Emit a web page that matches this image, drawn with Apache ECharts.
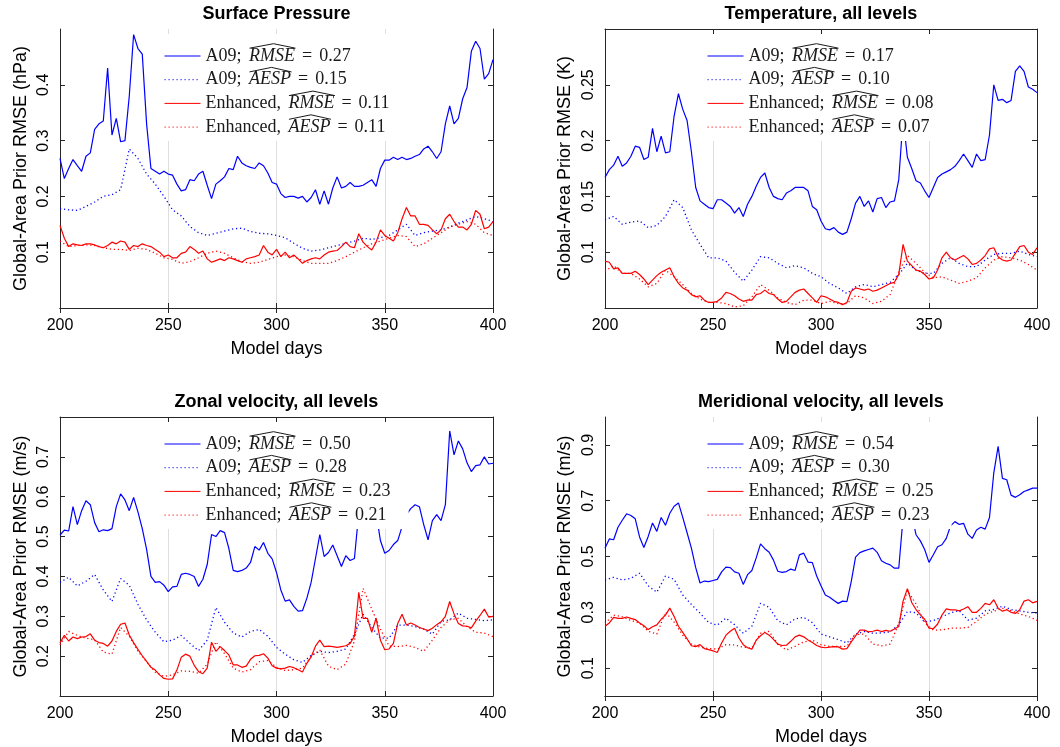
<!DOCTYPE html>
<html>
<head>
<meta charset="utf-8">
<title>Global-Area Prior RMSE</title>
<script src="https://cdn.jsdelivr.net/npm/echarts@6/dist/echarts.min.js"></script>
<style>
  html, body { margin: 0; padding: 0; background: #fff; }
  #chart { width: 1060px; height: 747px; }
</style>
</head>
<body>
<div id="chart"></div>
<script>
// model days: solid curves read every 2 days, dotted (smooth) curves every 4 days
const days2 = [];
for (let d = 200; d <= 400; d += 2) days2.push(d);
const days4 = [];
for (let d = 200; d <= 400; d += 4) days4.push(d);

const xTicks = [200, 250, 300, 350, 400];

// ---- Surface pressure (hPa)
const spTicks = [0.1, 0.2, 0.3, 0.4];
const spScores = ['0.27', '0.15', '0.11', '0.11'];
const spA09Rmse = [
  0.268, 0.232, 0.250, 0.266, 0.255, 0.245, 0.272, 0.278, 0.320, 0.330,
  0.335, 0.430, 0.310, 0.340, 0.298, 0.300, 0.380, 0.490, 0.465, 0.455,
  0.330, 0.250, 0.245, 0.240, 0.245, 0.240, 0.238, 0.222, 0.210, 0.212,
  0.230, 0.228, 0.240, 0.245, 0.220, 0.196, 0.222, 0.228, 0.235, 0.250,
  0.248, 0.272, 0.260, 0.255, 0.252, 0.250, 0.260, 0.255, 0.242, 0.225,
  0.222, 0.205, 0.198, 0.200, 0.200, 0.197, 0.200, 0.190, 0.198, 0.212,
  0.186, 0.210, 0.186, 0.215, 0.235, 0.215, 0.218, 0.225, 0.218, 0.218,
  0.220, 0.225, 0.230, 0.218, 0.250, 0.265, 0.265, 0.270, 0.266, 0.270,
  0.266, 0.268, 0.272, 0.275, 0.285, 0.290, 0.280, 0.268, 0.280, 0.330,
  0.362, 0.330, 0.340, 0.375, 0.395, 0.460, 0.478, 0.465, 0.410, 0.420,
  0.445
];
const spA09Aesp = [
  0.178, 0.176, 0.175, 0.182, 0.190,
  0.200, 0.203, 0.212, 0.285, 0.268,
  0.240, 0.222, 0.200, 0.176, 0.165,
  0.146, 0.135, 0.130, 0.134, 0.138,
  0.142, 0.143, 0.137, 0.134, 0.133,
  0.130, 0.126, 0.116, 0.107, 0.102,
  0.104, 0.108, 0.112, 0.116, 0.120,
  0.125, 0.123, 0.126, 0.130, 0.140,
  0.150, 0.130, 0.135, 0.138, 0.140,
  0.145, 0.152, 0.158, 0.164, 0.160,
  0.155
];
const spEnhRmse = [
  0.148, 0.125, 0.110, 0.115, 0.113, 0.112, 0.115, 0.115, 0.113, 0.110,
  0.108, 0.112, 0.118, 0.115, 0.120, 0.118, 0.105, 0.112, 0.110, 0.115,
  0.112, 0.110, 0.105, 0.100, 0.092, 0.095, 0.090, 0.090, 0.098, 0.100,
  0.110, 0.105, 0.098, 0.102, 0.088, 0.082, 0.085, 0.088, 0.085, 0.090,
  0.088, 0.085, 0.082, 0.088, 0.090, 0.092, 0.095, 0.112, 0.100, 0.095,
  0.105, 0.092, 0.100, 0.090, 0.095, 0.088, 0.080, 0.085, 0.088, 0.090,
  0.088, 0.095, 0.100, 0.102, 0.103, 0.110, 0.118, 0.110, 0.108, 0.133,
  0.118, 0.110, 0.104, 0.118, 0.140, 0.130, 0.125, 0.120, 0.135, 0.160,
  0.180, 0.165, 0.165, 0.150, 0.150, 0.148, 0.140, 0.133, 0.140, 0.160,
  0.168, 0.155, 0.145, 0.145, 0.140, 0.150, 0.175, 0.168, 0.142, 0.145,
  0.155
];
const spEnhAesp = [
  0.120, 0.110, 0.112, 0.113, 0.112,
  0.108, 0.105, 0.105, 0.103, 0.107,
  0.105, 0.098, 0.090, 0.087, 0.080,
  0.083, 0.090, 0.098, 0.102, 0.098,
  0.090, 0.083, 0.080, 0.082, 0.087,
  0.092, 0.095, 0.092, 0.085, 0.080,
  0.080, 0.080, 0.085, 0.092, 0.100,
  0.108, 0.115, 0.120, 0.125, 0.130,
  0.128, 0.110, 0.115, 0.125, 0.135,
  0.145, 0.150, 0.155, 0.150, 0.135,
  0.130
];

// ---- Temperature (K)
const tTicks = [0.1, 0.15, 0.2, 0.25];
const tScores = ['0.17', '0.10', '0.08', '0.07'];
const tA09Rmse = [
  0.167, 0.174, 0.178, 0.186, 0.177, 0.180, 0.186, 0.195, 0.194, 0.183,
  0.185, 0.211, 0.190, 0.204, 0.189, 0.190, 0.222, 0.242, 0.228, 0.218,
  0.190, 0.158, 0.146, 0.143, 0.140, 0.139, 0.147, 0.147, 0.144, 0.141,
  0.135, 0.140, 0.132, 0.143, 0.150, 0.159, 0.167, 0.171, 0.158, 0.150,
  0.148, 0.147, 0.153, 0.155, 0.158, 0.158, 0.158, 0.155, 0.141, 0.138,
  0.128, 0.121, 0.120, 0.122, 0.118, 0.116, 0.118, 0.130, 0.144, 0.150,
  0.141, 0.146, 0.136, 0.148, 0.149, 0.140, 0.145, 0.146, 0.165, 0.220,
  0.185, 0.175, 0.164, 0.162, 0.155, 0.149, 0.158, 0.167, 0.170, 0.172,
  0.174, 0.177, 0.182, 0.188, 0.182, 0.176, 0.188, 0.182, 0.183, 0.205,
  0.250, 0.236, 0.237, 0.234, 0.236, 0.262, 0.267, 0.262, 0.248, 0.246,
  0.243
];
const tA09Aesp = [
  0.129, 0.132, 0.125, 0.127, 0.128,
  0.122, 0.124, 0.132, 0.147, 0.140,
  0.120, 0.107, 0.095, 0.095, 0.092,
  0.082, 0.074, 0.084, 0.096, 0.095,
  0.090, 0.086, 0.088, 0.086, 0.081,
  0.078, 0.072, 0.068, 0.063, 0.069,
  0.071, 0.069, 0.071, 0.073, 0.080,
  0.090, 0.084, 0.081, 0.081, 0.090,
  0.095, 0.090, 0.087, 0.087, 0.093,
  0.098, 0.099, 0.099, 0.101, 0.098,
  0.096
];
const tEnhRmse = [
  0.092, 0.091, 0.085, 0.086, 0.081, 0.081, 0.081, 0.083, 0.080, 0.076,
  0.071, 0.075, 0.079, 0.082, 0.084, 0.086, 0.078, 0.072, 0.068, 0.066,
  0.062, 0.060, 0.061, 0.057, 0.055, 0.055, 0.056, 0.059, 0.064, 0.063,
  0.061, 0.058, 0.056, 0.057, 0.057, 0.062, 0.063, 0.066, 0.063, 0.062,
  0.058, 0.055, 0.056, 0.060, 0.064, 0.066, 0.067, 0.063, 0.059, 0.055,
  0.061, 0.060, 0.058, 0.056, 0.055, 0.053, 0.055, 0.065, 0.068, 0.067,
  0.066, 0.067, 0.065, 0.066, 0.068, 0.070, 0.072, 0.073, 0.080, 0.107,
  0.092, 0.088, 0.084, 0.083, 0.080, 0.076, 0.077, 0.084, 0.095, 0.100,
  0.095, 0.093, 0.095, 0.097, 0.094, 0.089, 0.090, 0.093, 0.097, 0.103,
  0.104, 0.096, 0.093, 0.092, 0.093, 0.099, 0.105, 0.106, 0.100, 0.098,
  0.104
];
const tEnhAesp = [
  0.083, 0.088, 0.081, 0.081, 0.076,
  0.069, 0.072, 0.084, 0.078, 0.071,
  0.063, 0.058, 0.055, 0.055, 0.054,
  0.051, 0.052, 0.060, 0.071, 0.066,
  0.059, 0.055, 0.053, 0.057, 0.057,
  0.054, 0.056, 0.054, 0.054, 0.061,
  0.059, 0.054, 0.056, 0.062, 0.082,
  0.097, 0.090, 0.082, 0.077, 0.078,
  0.075, 0.072, 0.074, 0.077, 0.086,
  0.093, 0.096, 0.095, 0.093, 0.089,
  0.084
];

// ---- Zonal velocity (m/s)
const uTicks = [0.2, 0.3, 0.4, 0.5, 0.6, 0.7];
const uScores = ['0.50', '0.28', '0.23', '0.21'];
const uA09Rmse = [
  0.504, 0.516, 0.514, 0.575, 0.530, 0.565, 0.590, 0.580, 0.535, 0.512,
  0.517, 0.515, 0.520, 0.575, 0.607, 0.592, 0.565, 0.598, 0.562, 0.520,
  0.468, 0.400, 0.385, 0.387, 0.378, 0.362, 0.374, 0.375, 0.405, 0.408,
  0.405, 0.400, 0.375, 0.393, 0.430, 0.505, 0.500, 0.515, 0.510, 0.470,
  0.415, 0.412, 0.415, 0.421, 0.435, 0.475, 0.466, 0.485, 0.458, 0.444,
  0.410, 0.366, 0.338, 0.341, 0.325, 0.313, 0.314, 0.345, 0.385, 0.445,
  0.505, 0.450, 0.460, 0.479, 0.452, 0.425, 0.452, 0.440, 0.445, 0.560,
  0.600, 0.620, 0.600, 0.560, 0.490, 0.458, 0.465, 0.480, 0.490, 0.525,
  0.555, 0.570, 0.580, 0.575, 0.530, 0.492, 0.540, 0.555, 0.540, 0.580,
  0.765, 0.705, 0.740, 0.720, 0.685, 0.663, 0.678, 0.680, 0.700, 0.682,
  0.684
];
const uA09Aesp = [
  0.385, 0.398, 0.376, 0.388, 0.405,
  0.366, 0.337, 0.395, 0.378, 0.330,
  0.291, 0.260, 0.236, 0.240, 0.252,
  0.232, 0.214, 0.240, 0.322, 0.285,
  0.258, 0.248, 0.262, 0.267, 0.250,
  0.222, 0.205, 0.191, 0.184, 0.202,
  0.212, 0.209, 0.212, 0.218, 0.255,
  0.305, 0.272, 0.245, 0.245, 0.278,
  0.278, 0.274, 0.268, 0.255, 0.287,
  0.291, 0.308, 0.295, 0.292, 0.289,
  0.291
];
const uEnhRmse = [
  0.233, 0.252, 0.238, 0.248, 0.244, 0.248, 0.249, 0.256, 0.240, 0.234,
  0.232, 0.225, 0.238, 0.262, 0.280, 0.283, 0.253, 0.234, 0.217, 0.201,
  0.187, 0.172, 0.165, 0.153, 0.144, 0.142, 0.143, 0.165, 0.197, 0.205,
  0.200, 0.177, 0.161, 0.156, 0.170, 0.235, 0.212, 0.224, 0.214, 0.203,
  0.178, 0.178, 0.172, 0.175, 0.192, 0.201, 0.202, 0.206, 0.195, 0.176,
  0.170, 0.168, 0.170, 0.174, 0.171, 0.166, 0.160, 0.182, 0.198, 0.225,
  0.240, 0.224, 0.225, 0.224, 0.222, 0.224, 0.226, 0.232, 0.250, 0.360,
  0.295, 0.295, 0.260, 0.295, 0.240, 0.216, 0.218, 0.232, 0.282, 0.305,
  0.278, 0.283, 0.278, 0.272, 0.268, 0.264, 0.270, 0.279, 0.286, 0.300,
  0.337, 0.306, 0.282, 0.276, 0.275, 0.271, 0.288, 0.302, 0.318, 0.298,
  0.300
];
const uEnhAesp = [
  0.228, 0.262, 0.252, 0.245, 0.241,
  0.210, 0.205, 0.272, 0.250, 0.212,
  0.186, 0.160, 0.149, 0.153, 0.163,
  0.162, 0.157, 0.180, 0.236, 0.206,
  0.170, 0.160, 0.166, 0.186, 0.189,
  0.172, 0.164, 0.166, 0.170, 0.200,
  0.215, 0.175, 0.166, 0.180, 0.238,
  0.370, 0.318, 0.268, 0.225, 0.224,
  0.227, 0.222, 0.212, 0.240, 0.272,
  0.291, 0.295, 0.274, 0.260, 0.258,
  0.249
];

// ---- Meridional velocity (m/s)
const vTicks = [0.1, 0.3, 0.5, 0.7, 0.9];
const vScores = ['0.54', '0.30', '0.25', '0.23'];
const vA09Rmse = [
  0.530, 0.563, 0.560, 0.605, 0.630, 0.653, 0.647, 0.635, 0.570, 0.532,
  0.572, 0.620, 0.590, 0.640, 0.612, 0.655, 0.680, 0.692, 0.640, 0.585,
  0.530, 0.460, 0.405, 0.412, 0.410, 0.414, 0.418, 0.445, 0.462, 0.460,
  0.445, 0.440, 0.400, 0.435, 0.450, 0.495, 0.545, 0.528, 0.515, 0.487,
  0.447, 0.443, 0.446, 0.455, 0.450, 0.506, 0.512, 0.480, 0.478, 0.430,
  0.395, 0.362, 0.354, 0.342, 0.332, 0.340, 0.338, 0.410, 0.498, 0.514,
  0.520, 0.525, 0.530, 0.515, 0.485, 0.476, 0.470, 0.458, 0.458, 0.640,
  0.680, 0.650, 0.578, 0.556, 0.525, 0.479, 0.506, 0.535, 0.542, 0.565,
  0.610, 0.625, 0.615, 0.619, 0.580, 0.565, 0.595, 0.605, 0.598, 0.640,
  0.800, 0.895, 0.780, 0.775, 0.720, 0.712, 0.721, 0.733, 0.739, 0.745,
  0.745
];
const vA09Aesp = [
  0.416, 0.425, 0.416, 0.422, 0.440,
  0.395, 0.372, 0.430, 0.418, 0.362,
  0.328, 0.297, 0.263, 0.254, 0.279,
  0.255, 0.225, 0.250, 0.332, 0.318,
  0.270, 0.255, 0.276, 0.282, 0.263,
  0.222, 0.212, 0.202, 0.190, 0.222,
  0.231, 0.225, 0.226, 0.230, 0.255,
  0.303, 0.298, 0.266, 0.270, 0.284,
  0.298, 0.306, 0.272, 0.279, 0.305,
  0.310, 0.322, 0.310, 0.305, 0.300,
  0.297
];
const vEnhRmse = [
  0.250, 0.262, 0.282, 0.278, 0.278, 0.283, 0.278, 0.274, 0.262, 0.252,
  0.238, 0.248, 0.255, 0.275, 0.290, 0.315, 0.285, 0.250, 0.228, 0.205,
  0.180, 0.177, 0.184, 0.170, 0.166, 0.162, 0.156, 0.190, 0.218, 0.232,
  0.243, 0.208, 0.184, 0.173, 0.168, 0.200, 0.216, 0.228, 0.218, 0.203,
  0.186, 0.181, 0.182, 0.196, 0.212, 0.218, 0.212, 0.201, 0.192, 0.181,
  0.175, 0.173, 0.175, 0.177, 0.176, 0.168, 0.170, 0.194, 0.215, 0.236,
  0.236, 0.230, 0.232, 0.236, 0.231, 0.235, 0.232, 0.240, 0.249, 0.340,
  0.385, 0.335, 0.310, 0.291, 0.275, 0.243, 0.241, 0.258, 0.290, 0.312,
  0.309, 0.309, 0.305, 0.312, 0.320, 0.300, 0.300, 0.314, 0.332, 0.327,
  0.345, 0.315, 0.304, 0.309, 0.300, 0.296, 0.309, 0.340, 0.345, 0.334,
  0.339
];
const vEnhAesp = [
  0.261, 0.290, 0.284, 0.271, 0.262,
  0.232, 0.222, 0.300, 0.265, 0.218,
  0.186, 0.175, 0.170, 0.168, 0.184,
  0.183, 0.175, 0.172, 0.225, 0.232,
  0.186, 0.165, 0.178, 0.194, 0.200,
  0.184, 0.178, 0.178, 0.178, 0.220,
  0.222, 0.186, 0.180, 0.186, 0.260,
  0.378, 0.330, 0.262, 0.236, 0.237,
  0.243, 0.243, 0.246, 0.267, 0.293,
  0.304, 0.314, 0.306, 0.294, 0.285,
  0.271
];

const panels = [
  { key: 'sp', title: 'Surface Pressure', yName: 'Global-Area Prior RMSE (hPa)',
    yMin: 0, yMax: 0.5, yTicks: spTicks, scores: spScores, sep: ',',
    lines: [spA09Rmse, spA09Aesp, spEnhRmse, spEnhAesp],
    left: 60, top: 29, width: 433, legendLeft: 150, nameGap: 30 },
  { key: 't', title: 'Temperature, all levels', yName: 'Global-Area Prior RMSE (K)',
    yMin: 0.05, yMax: 0.3, yTicks: tTicks, scores: tScores, sep: ';',
    lines: [tA09Rmse, tA09Aesp, tEnhRmse, tEnhAesp],
    left: 605, top: 29, width: 432, legendLeft: 693, nameGap: 31 },
  { key: 'u', title: 'Zonal velocity, all levels', yName: 'Global-Area Prior RMSE (m/s)',
    yMin: 0.1, yMax: 0.8, yTicks: uTicks, scores: uScores, sep: ';',
    lines: [uA09Rmse, uA09Aesp, uEnhRmse, uEnhAesp],
    left: 60, top: 417, width: 433, legendLeft: 150, nameGap: 30 },
  { key: 'v', title: 'Meridional velocity, all levels', yName: 'Global-Area Prior RMSE (m/s)',
    yMin: 0, yMax: 1, yTicks: vTicks, scores: vScores, sep: ';',
    lines: [vA09Rmse, vA09Aesp, vEnhRmse, vEnhAesp],
    left: 605, top: 417, width: 432, legendLeft: 693, nameGap: 31 }
];

const plotHeight = 279;
const sansFont = 'Liberation Sans, Arial, sans-serif';
const serifFont = 'Liberation Serif, Times New Roman, serif';
const legendFontSize = 18;
const axisColor = '#262626';
const legendTextColor = '#1a1a1a';

const looks = [
  { color: '#0000ff', type: 'solid', width: 1.2 },
  { color: '#0000ff', type: [1.2, 2.8], width: 1.3 },
  { color: '#ff0000', type: 'solid', width: 1.2 },
  { color: '#ff0000', type: [1.2, 2.8], width: 1.3 }
];

// legend layout numbers
const legPad = [13, 18, 5, 14];
const legItemW = 36;
const legRowH = 18;
const legGap = 5.7;
const wordPadLeft = 3;

// measure text to place the wide hats over RMSE / AESP
const measureCtx = document.createElement('canvas').getContext('2d');
function textWidth(str, italic) {
  measureCtx.font = (italic ? 'italic ' : '') + legendFontSize + 'px "Liberation Serif"';
  return measureCtx.measureText(str).width;
}

const fmt = v => String(+v.toFixed(2));

const option = {
  animation: false,
  backgroundColor: '#fff',
  textStyle: { fontFamily: sansFont },
  title: [], grid: [], xAxis: [], yAxis: [], legend: [], series: [], graphic: []
};

panels.forEach((p, k) => {
  option.grid.push({ left: p.left, top: p.top, width: p.width, height: plotHeight });

  option.title.push({
    text: p.title,
    left: p.left + p.width / 2,
    top: p.top - 24,
    textAlign: 'center',
    padding: 0,
    textStyle: { fontFamily: sansFont, fontWeight: 'bold', fontSize: 18, color: '#000' }
  });

  // bottom axis with labels, and a top one for the box ticks
  option.xAxis.push({
    type: 'value', gridIndex: k, position: 'bottom',
    min: xTicks[0], max: xTicks[xTicks.length - 1], interval: xTicks[1] - xTicks[0],
    name: 'Model days', nameLocation: 'middle', nameGap: 32,
    nameTextStyle: { fontSize: 18, color: '#000', fontFamily: sansFont },
    axisLine: { show: true, lineStyle: { color: axisColor, width: 1 } },
    axisTick: { show: true, inside: true, length: 5, lineStyle: { color: axisColor } },
    axisLabel: { margin: 10, fontSize: 16, color: '#000', fontFamily: sansFont },
    splitLine: { show: true, lineStyle: { color: '#dedede', width: 1 } }
  });
  option.xAxis.push({
    type: 'value', gridIndex: k, position: 'top',
    min: xTicks[0], max: xTicks[xTicks.length - 1], interval: xTicks[1] - xTicks[0],
    axisLine: { show: true, lineStyle: { color: axisColor, width: 1 } },
    axisTick: { show: true, inside: true, length: 5, lineStyle: { color: axisColor } },
    axisLabel: { show: false },
    splitLine: { show: false }
  });

  option.yAxis.push({
    type: 'value', gridIndex: k, position: 'left',
    min: p.yMin, max: p.yMax,
    name: p.yName, nameLocation: 'middle', nameGap: p.nameGap, nameRotate: 90,
    nameTextStyle: { fontSize: 18, color: '#000', fontFamily: sansFont },
    axisLine: { show: true, lineStyle: { color: axisColor, width: 1 } },
    axisTick: { show: true, inside: true, length: 5, customValues: p.yTicks, lineStyle: { color: axisColor } },
    axisLabel: { customValues: p.yTicks, rotate: 90, margin: 8, fontSize: 16, color: '#000',
                 fontFamily: sansFont, formatter: fmt },
    splitLine: { show: false }
  });
  option.yAxis.push({
    type: 'value', gridIndex: k, position: 'right',
    min: p.yMin, max: p.yMax,
    axisLine: { show: true, lineStyle: { color: axisColor, width: 1 } },
    axisTick: { show: true, inside: true, length: 5, customValues: p.yTicks, lineStyle: { color: axisColor } },
    axisLabel: { show: false },
    splitLine: { show: false }
  });

  const rows = [
    ['A09;', 'RMSE'],
    ['A09;', 'AESP'],
    ['Enhanced' + p.sep, 'RMSE'],
    ['Enhanced' + p.sep, 'AESP']
  ];
  const labels = {};
  const names = [];

  p.lines.forEach((vals, j) => {
    const days = j % 2 === 0 ? days2 : days4;
    const name = p.key + '-' + j;
    names.push(name);
    labels[name] = '{n|' + rows[j][0] + ' }{i|' + rows[j][1] + '}{eq|=}{n|' + p.scores[j] + '}';
    option.series.push({
      name: name,
      type: 'line',
      xAxisIndex: 2 * k,
      yAxisIndex: 2 * k,
      data: days.map((d, i) => [d, vals[i]]),
      symbol: 'none',
      showSymbol: false,
      silent: true,
      emphasis: { disabled: true },
      lineStyle: { color: looks[j].color, width: looks[j].width, type: looks[j].type },
      itemStyle: { color: looks[j].color }
    });
  });

  option.legend.push({
    orient: 'vertical',
    left: p.legendLeft,
    top: p.top + 5,
    padding: legPad,
    itemGap: legGap,
    itemWidth: legItemW,
    itemHeight: 14,
    backgroundColor: '#fff',
    selectedMode: false,
    itemStyle: { opacity: 0 },
    lineStyle: { width: 1 },
    data: names,
    formatter: name => labels[name],
    textStyle: {
      rich: {
        n: { fontFamily: serifFont, fontSize: legendFontSize, lineHeight: legRowH, color: legendTextColor },
        i: { fontFamily: serifFont, fontStyle: 'italic', fontSize: legendFontSize, lineHeight: legRowH,
             color: legendTextColor, padding: [0, 0, 0, wordPadLeft] },
        eq: { fontFamily: serifFont, fontSize: legendFontSize, lineHeight: legRowH, color: legendTextColor,
              padding: [0, 7, 0, 7] }
      }
    }
  });

  // wide hats over the italic words
  const textX = p.legendLeft + legPad[3] + legItemW + 5;
  rows.forEach((row, r) => {
    const cy = p.top + 5 + legPad[0] + r * (legRowH + legGap) + legRowH / 2;
    const capTop = cy - 5.8;
    const x0 = textX + textWidth(row[0] + ' ', false) + wordPadLeft + 1;
    const w = textWidth(row[1], true);
    option.graphic.push({
      type: 'polyline',
      z: 100,
      silent: true,
      shape: { points: [[x0, capTop - 2], [x0 + w / 2 + 1, capTop - 6.5], [x0 + w, capTop - 2]] },
      style: { stroke: legendTextColor, lineWidth: 1, fill: null }
    });
  });
});

const chart = echarts.init(document.getElementById('chart'), null, { renderer: 'canvas' });
chart.setOption(option);
</script>
</body>
</html>
